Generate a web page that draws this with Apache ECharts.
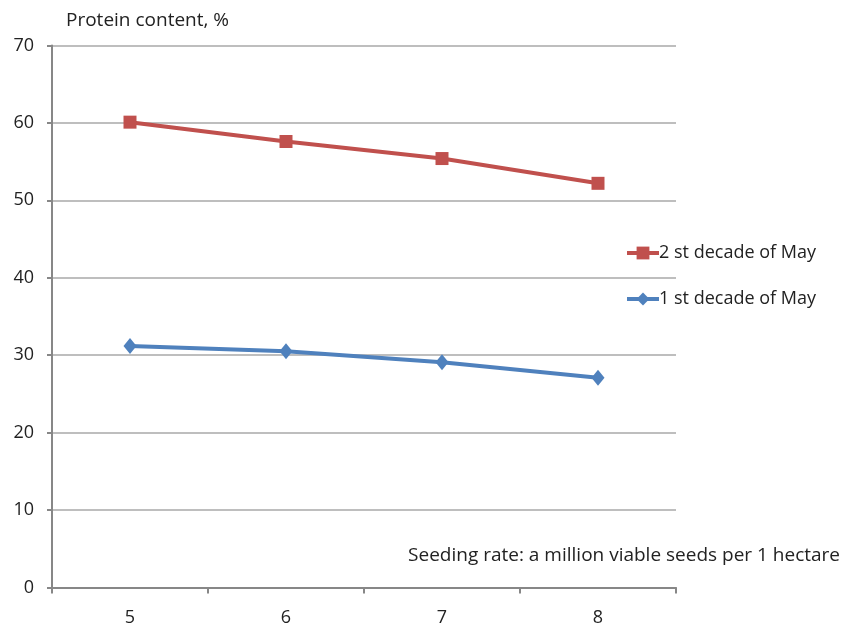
<!DOCTYPE html>
<html><head><meta charset="utf-8">
<script src="https://cdn.jsdelivr.net/npm/echarts@6/dist/echarts.min.js"></script>
<style>html,body{margin:0;padding:0;background:#fff}#c{width:843px;height:623px}</style>
</head><body><div id="c"></div>
<script>
var categories = ['5', '6', '7', '8'];
var secondDecade = [60.1, 57.6, 55.4, 52.2];
var firstDecade = [31.2, 30.5, 29.1, 27.1];
var seriesNames = ['2 st decade of May', '1 st decade of May'];
var yTitle = 'Protein content, %';
var xNote = 'Seeding rate: a million viable seeds per 1 hectare';

var FONT = '"Open Sans", sans-serif';
var chart = echarts.init(document.getElementById('c'), null, {renderer: 'canvas'});
chart.setOption({
  animation: false,
  backgroundColor: '#fff',
  grid: {left: 52, right: 167, top: 45.5, bottom: 35.5, containLabel: false, outerBoundsMode: 'none'},
  xAxis: {
    type: 'category', data: categories, boundaryGap: true,
    axisLine: {lineStyle: {color: '#878787', width: 2}},
    axisTick: {show: true, length: 6, lineStyle: {color: '#878787', width: 2}},
    axisLabel: {color: '#222', fontFamily: FONT, fontSize: 18, margin: 21}
  },
  yAxis: {
    type: 'value', min: 0, max: 70, interval: 10,
    axisLine: {show: true, lineStyle: {color: '#878787', width: 2}},
    axisTick: {show: true, length: 5, lineStyle: {color: '#878787', width: 2}},
    splitLine: {lineStyle: {color: '#A8A8A8', width: 1.5}},
    axisLabel: {color: '#222', fontFamily: FONT, fontSize: 18, margin: 18}
  },
  legend: {
    orient: 'vertical', left: 620, top: 239, itemGap: 28,
    itemWidth: 32, itemHeight: 16,
    lineStyle: {width: 4},
    textStyle: {color: '#222', fontFamily: FONT, fontSize: 18, padding: [0,0,0,-5]},
    data: seriesNames
  },
  graphic: [
    {type: 'text', left: 66, top: 11, style: {text: yTitle, fill: '#222', font: '19px ' + FONT}},
    {type: 'text', right: 3, top: 546, style: {text: xNote, fill: '#222', font: '19px ' + FONT}}
  ],
  series: [
    {name: seriesNames[0], type: 'line', data: secondDecade, symbol: 'rect', symbolSize: 13,
     lineStyle: {color: '#C0504D', width: 4}, itemStyle: {color: '#C0504D'}},
    {name: seriesNames[1], type: 'line', data: firstDecade, symbol: 'diamond', symbolSize: [13, 16],
     lineStyle: {color: '#4F81BD', width: 4}, itemStyle: {color: '#4F81BD'}}
  ]
});
</script></body></html>
